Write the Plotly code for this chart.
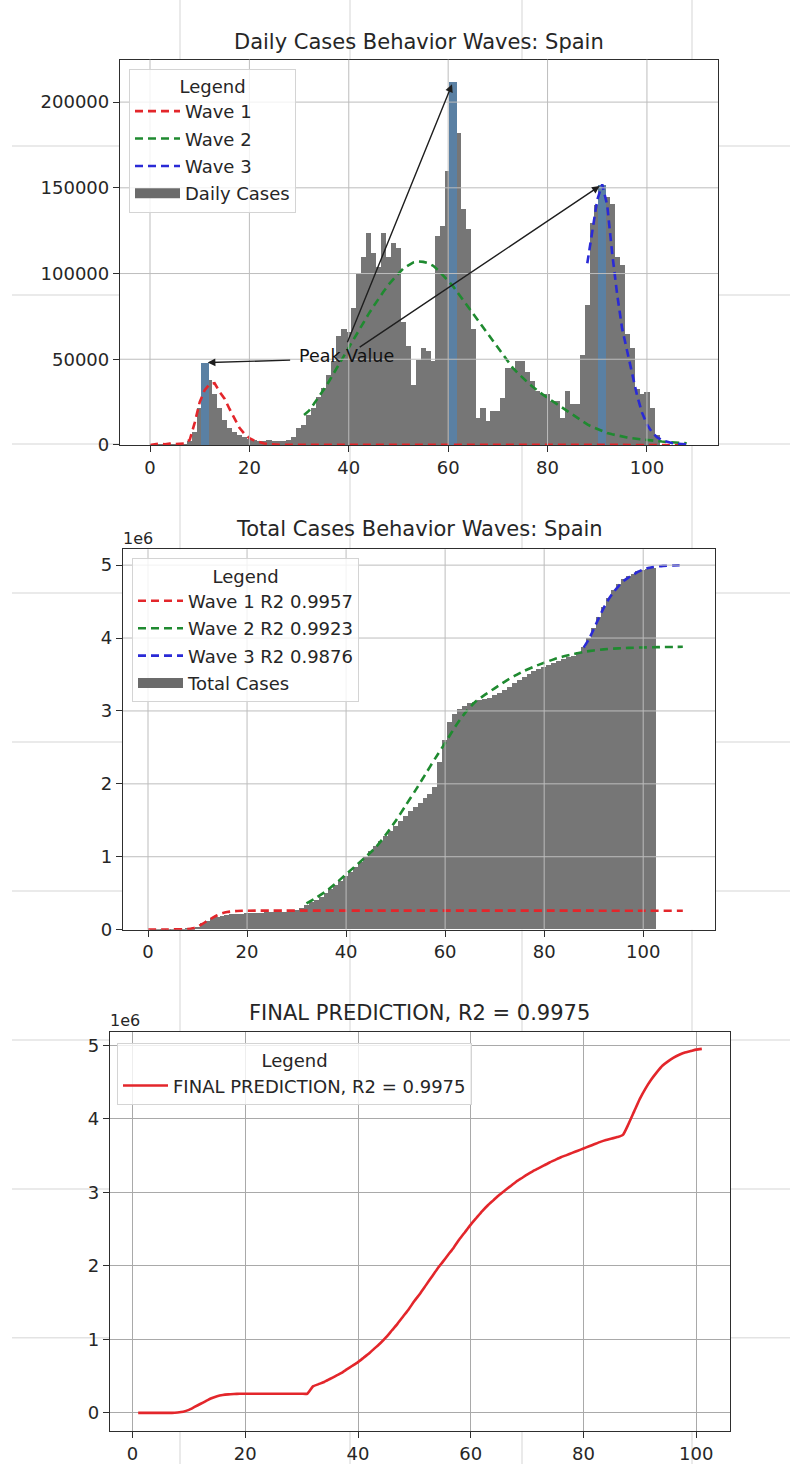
import plotly.graph_objects as go

# ---------------------------------------------------------------- data
days = list(range(0, 103))
daily_cases = [
    0, 100, 300, 200, 500, 400, 600, 1000, 2500, 8000,
    22000, 48000, 38000, 30000, 22000, 15000, 10000, 8000, 6000, 5000,
    3500, 3000, 2500, 2500, 3000, 2800, 2600, 2800, 3000, 4600,
    10400, 12000, 18000, 22000, 28000, 33600, 41000, 49000, 64000, 68000,
    66000, 80000, 100000, 110000, 124000, 112000, 104000, 124000, 110000, 118000,
    115000, 72000, 58000, 35000, 50000, 57000, 55000, 49000, 122000, 128000,
    160000, 212000, 182000, 138000, 126000, 68000, 16000, 22000, 14500, 20000,
    20000, 27800, 45000, 45000, 49000, 49000, 43000, 37600, 32000, 30000,
    30000, 26000, 26000, 16000, 32000, 24000, 24000, 53000, 82000, 130000,
    140000, 152000, 145000, 141000, 110000, 105000, 65000, 57000, 33000, 30000,
    31000, 22000, 6000,
]
total_cases = [
    0, 100, 400, 600, 1100, 1500, 2100, 3100, 5600, 14000,
    36000, 84000, 122000, 152000, 174000, 189000, 199000, 207000, 213000, 218000,
    222000, 225000, 227000, 230000, 233000, 235000, 238000, 241000, 244000, 249000,
    270000, 300000, 330000, 370000, 410000, 450000, 500000, 550000, 610000, 670000,
    730000, 790000, 860000, 930000, 1000000, 1070000, 1140000, 1210000, 1280000, 1350000,
    1420000, 1490000, 1560000, 1620000, 1680000, 1740000, 1800000, 1860000, 1950000, 2300000,
    2600000, 2850000, 2950000, 3020000, 3070000, 3100000, 3120000, 3140000, 3160000, 3180000,
    3210000, 3240000, 3280000, 3330000, 3380000, 3420000, 3460000, 3500000, 3540000, 3570000,
    3600000, 3630000, 3660000, 3680000, 3710000, 3730000, 3750000, 3800000, 3880000, 4000000,
    4130000, 4280000, 4420000, 4550000, 4660000, 4740000, 4800000, 4850000, 4880000, 4910000,
    4930000, 4950000, 4960000,
]

# fitted daily curves of the three waves
wave1_daily_days = list(range(0, 27)) + [108]
wave1_daily = [
    0, 500, 800, 400, 800, 500, 600, 900, 3000, 13000,
    25000, 32000, 35500, 36000, 31000, 27000, 21000, 15000, 10000, 6500,
    4000, 2500, 1500, 900, 500, 300, 150, 0,
]
wave2_daily_days = list(range(31, 109))
wave2_daily = [
    17500, 20000, 24000, 28000, 32500, 37000, 42000, 47000, 52000, 57000,
    61500, 66500, 71500, 76500, 81000, 85500, 89500, 93500, 97000, 100000,
    103000, 105000, 106500, 107000, 106800, 106000, 104500, 102000, 99000, 96000,
    92500, 88500, 84500, 80500, 76500, 72500, 68500, 64500, 60500, 57000,
    52500, 48500, 45000, 42000, 39000, 36500, 34000, 31500, 29500, 27500,
    25500, 23500, 21500, 19500, 17500, 15500, 14000, 12000, 10500, 9200,
    8000, 7000, 6200, 5500, 4900, 4400, 3900, 3500, 3200, 2900,
    2600, 2300, 2000, 1800, 1600, 1400, 1200, 1000,
]
wave3_daily_days = list(range(88, 109))
wave3_daily = [
    106000, 125000, 143000, 152000, 140000, 112000, 88000, 68000, 55000, 42000,
    29000, 19000, 12000, 7500, 4500, 2800, 1800, 1100, 700, 400, 300,
]

peak_days = [11, 61, 91]
peak_values = [48000, 212000, 152000]

# fitted cumulative curves of the three waves
wave1_total_days = list(range(0, 21)) + [108]
wave1_total = [
    3000, 3000, 3000, 3000, 3000, 3500, 4000, 5000, 8000, 18000,
    42000, 80000, 122000, 162000, 198000, 225000, 242000, 251000, 256000, 259000,
    260000, 260000,
]
wave2_total_days = list(range(32, 109, 2))
wave2_total = [
    360000, 440000, 530000, 640000, 760000, 880000, 1000000, 1130000, 1300000, 1490000,
    1700000, 1910000, 2130000, 2350000, 2560000, 2780000, 2970000, 3120000, 3220000, 3310000,
    3400000, 3480000, 3550000, 3610000, 3660000, 3710000, 3750000, 3780000, 3810000, 3830000,
    3845000, 3855000, 3862000, 3867000, 3871000, 3874000, 3876000, 3878000, 3880000,
]
wave3_total_days = list(range(88, 103)) + [104, 106, 108]
wave3_total = [
    3870000, 3980000, 4120000, 4270000, 4410000, 4530000, 4630000, 4710000, 4780000, 4830000,
    4870000, 4910000, 4940000, 4960000, 4975000, 4990000, 4995000, 5000000,
]
wave_r2 = ["0.9957", "0.9923", "0.9876"]

pred_days = list(range(1, 102))
final_prediction = [
    0, 0, 0, 0, 0, 0, 0, 5000, 15000, 40000,
    80000, 120000, 160000, 198000, 225000, 242000, 251000, 256000, 259000, 260000,
    260000, 260000, 260000, 260000, 260000, 260000, 260000, 260000, 260000, 260000, 260000,
    360000, 390000, 420000, 460000, 500000, 540000, 590000, 640000, 690000,
    750000, 810000, 880000, 950000, 1030000, 1120000, 1210000, 1310000, 1410000, 1520000,
    1620000, 1730000, 1840000, 1950000, 2050000, 2150000, 2250000, 2360000, 2460000, 2560000,
    2650000, 2740000, 2820000, 2890000, 2960000, 3020000, 3080000, 3140000, 3190000, 3240000,
    3285000, 3325000, 3365000, 3405000, 3440000, 3475000, 3505000, 3535000, 3565000, 3595000,
    3625000, 3655000, 3685000, 3710000, 3730000, 3750000, 3780000, 3930000, 4100000, 4270000,
    4410000, 4530000, 4630000, 4720000, 4780000, 4830000, 4870000, 4900000, 4920000, 4940000,
    4950000,
]
final_r2 = "0.9975"

day_ticks = [0, 20, 40, 60, 80, 100]
daily_ticks = [0, 50000, 100000, 150000, 200000]
daily_tick_labels = ["0", "50000", "100000", "150000", "200000"]
million_ticks = [0, 1e6, 2e6, 3e6, 4e6, 5e6]
million_tick_labels = ["0", "1", "2", "3", "4", "5"]

# ---------------------------------------------------------------- styling
W, H = 790, 1474
FONT = "DejaVu Sans"
INK = "#262626"
FRAME = "#2e2e2e"
GRID = "#bdbdbd"
GRID3 = "#a9a9a9"
BAR = "#767676"
PEAK = "#5a80a3"
RED, GREEN, BLUE = "#e3262b", "#1f8a30", "#2a2ad6"
DASH = "8px,5px"
TICK_SIZE = 18
LEGEND_SIZE = 18
BAR_WIDTH = 1.12  # slight overlap so neighbouring bars join without seams


def fx(p):
    return p / W


def fy(p):
    return 1 - p / H


# panel boxes in pixels: (left, top, right, bottom)
panels = {
    1: (120, 60, 718, 448),
    2: (123, 553, 715, 936),
    3: (110, 1039, 730, 1441),
}

fig = go.Figure()

# ---- panel 1: daily cases
for name, xs, ys, col in [
    ("Wave 1", wave1_daily_days, wave1_daily, RED),
    ("Wave 2", wave2_daily_days, wave2_daily, GREEN),
    ("Wave 3", wave3_daily_days, wave3_daily, BLUE),
]:
    fig.add_trace(go.Scatter(
        x=xs, y=ys, mode="lines", name=name, legend="legend", legendgroup=name,
        line=dict(color=col, width=2.6, dash=DASH),
        xaxis="x", yaxis="y",
    ))
fig.add_trace(go.Scatter(
    x=[None], y=[None], mode="lines", name="Daily Cases", legend="legend",
    legendgroup="Daily Cases",
    line=dict(color="#6b6b6b", width=12), xaxis="x", yaxis="y",
))
fig.add_trace(go.Bar(
    x=days, y=daily_cases, width=BAR_WIDTH, showlegend=False,
    marker=dict(color=BAR, line=dict(width=0)),
    xaxis="x", yaxis="y",
))
fig.add_trace(go.Bar(
    x=peak_days, y=peak_values, width=1.6, showlegend=False,
    marker=dict(color=PEAK, line=dict(width=0)),
    xaxis="x", yaxis="y",
))

# ---- panel 2: total cases
for i, (xs, ys, col) in enumerate([
    (wave1_total_days, wave1_total, RED),
    (wave2_total_days, wave2_total, GREEN),
    (wave3_total_days, wave3_total, BLUE),
]):
    nm = f"Wave {i + 1} R2 {wave_r2[i]}"
    fig.add_trace(go.Scatter(
        x=xs, y=ys, mode="lines", name=nm, legendgroup=nm,
        legend="legend2", line=dict(color=col, width=2.6, dash=DASH,
                                    shape="spline", smoothing=0.6),
        xaxis="x2", yaxis="y2",
    ))
fig.add_trace(go.Scatter(
    x=[None], y=[None], mode="lines", name="Total Cases", legend="legend2",
    legendgroup="Total Cases",
    line=dict(color="#6b6b6b", width=12), xaxis="x2", yaxis="y2",
))
fig.add_trace(go.Bar(
    x=days, y=total_cases, width=BAR_WIDTH, showlegend=False,
    marker=dict(color=BAR, line=dict(width=0)),
    xaxis="x2", yaxis="y2",
))

# ---- panel 3: final prediction
fig.add_trace(go.Scatter(
    x=pred_days, y=final_prediction, mode="lines",
    name=f"FINAL PREDICTION, R2 = {final_r2}", legend="legend3",
    line=dict(color=RED, width=2.6, shape="spline", smoothing=0.5),
    xaxis="x3", yaxis="y3",
))

axis_common = dict(
    showline=True, mirror=True, linecolor=FRAME, linewidth=1.3,
    ticks="outside", ticklen=6, tickwidth=1.2, tickcolor=FRAME,
    tickfont=dict(family=FONT, size=TICK_SIZE, color=INK),
    zeroline=False, showgrid=False, fixedrange=True,
)


def xdom(k):
    l, t, r, b = panels[k]
    return [fx(l), fx(r)]


def ydom(k):
    l, t, r, b = panels[k]
    return [fy(b), fy(t)]


fig.update_layout(
    width=W, height=H, margin=dict(l=0, r=0, t=0, b=0),
    paper_bgcolor="white", plot_bgcolor="white",
    barmode="overlay", bargap=0,
    font=dict(family=FONT, color=INK),
    xaxis=dict(axis_common, domain=xdom(1), range=[-6.04, 114.3],
               tickvals=day_ticks, anchor="y"),
    yaxis=dict(axis_common, domain=ydom(1), range=[0, 224800],
               tickvals=daily_ticks, ticktext=daily_tick_labels, anchor="x"),
    xaxis2=dict(axis_common, domain=xdom(2), range=[-5.05, 114.5],
                tickvals=day_ticks, anchor="y2"),
    yaxis2=dict(axis_common, domain=ydom(2), range=[0, 5.218e6],
                tickvals=million_ticks, ticktext=million_tick_labels, anchor="x2"),
    xaxis3=dict(axis_common, domain=xdom(3), range=[-4, 106],
                tickvals=day_ticks, anchor="y3", showgrid=True,
                gridcolor=GRID3, gridwidth=1),
    yaxis3=dict(axis_common, domain=ydom(3), range=[-0.25e6, 5.18e6],
                tickvals=million_ticks, ticktext=million_tick_labels, anchor="x3",
                showgrid=True, gridcolor=GRID3, gridwidth=1),
)

legend_common = dict(
    xanchor="left", yanchor="top",
    bgcolor="rgba(255,255,255,0.8)", bordercolor="#d4d4d4", borderwidth=1,
    font=dict(family=FONT, size=LEGEND_SIZE, color=INK),
    itemwidth=45, tracegroupgap=1, traceorder="grouped",
)
legend_title = dict(text="Legend", side="top center",
                    font=dict(family=FONT, size=LEGEND_SIZE, color=INK))
fig.update_layout(
    legend=dict(legend_common, x=fx(129), y=fy(69), title=legend_title),
    legend2=dict(legend_common, x=fx(132), y=fy(562), title=legend_title),
    legend3=dict(legend_common, x=fx(117), y=fy(1050), title=legend_title),
)

# ---- page rules, white panels and panel grids
shapes = []
for xp in [180, 350, 522, 692]:
    shapes.append(dict(type="line", xref="paper", yref="paper",
                       x0=fx(xp), x1=fx(xp), y0=0, y1=1, layer="below",
                       line=dict(color="#e3e3e3", width=1.5)))
for yp in [147, 297, 447, 597, 747, 897, 1047, 1197, 1347]:
    shapes.append(dict(type="line", xref="paper", yref="paper",
                       x0=fx(12), x1=1, y0=fy(yp), y1=fy(yp), layer="below",
                       line=dict(color="#e3e3e3", width=1.5)))
for k, (l, t, r, b) in panels.items():
    shapes.append(dict(type="rect", xref="paper", yref="paper",
                       x0=fx(l), x1=fx(r), y0=fy(b), y1=fy(t), layer="below",
                       fillcolor="white", line=dict(width=0)))
for xa, ya, yticks in [("x", "y", daily_ticks), ("x2", "y2", million_ticks)]:
    for t in day_ticks:
        shapes.append(dict(type="line", xref=xa, yref=f"{ya} domain",
                           x0=t, x1=t, y0=0, y1=1, layer="above",
                           line=dict(color=GRID, width=1)))
    for t in yticks[1:]:
        shapes.append(dict(type="line", xref=f"{xa} domain", yref=ya,
                           x0=0, x1=1, y0=t, y1=t, layer="above",
                           line=dict(color=GRID, width=1)))
fig.update_layout(shapes=shapes)

# ---- titles, offset labels, peak annotations
ann = []
titles = [
    ("Daily Cases Behavior Waves: Spain", 419, 42),
    ("Total Cases Behavior Waves: Spain", 419, 533),
    (f"FINAL PREDICTION, R2 = {final_r2}", 420, 1020),
]
for text, xp, yp in titles:
    ann.append(dict(text=text, x=fx(xp), y=fy(yp), xref="paper", yref="paper",
                    xanchor="center", yanchor="middle", showarrow=False,
                    font=dict(family=FONT, size=21, color=INK)))
for xp, yp in [(138, 542), (125, 1027)]:
    ann.append(dict(text="1e6", x=fx(xp), y=fy(yp), xref="paper", yref="paper",
                    xanchor="center", yanchor="middle", showarrow=False,
                    font=dict(family=FONT, size=16, color=INK)))
ann.append(dict(text="Peak Value", x=29.6, y=52100, xref="x", yref="y",
                xanchor="left", yanchor="middle", showarrow=False,
                font=dict(family=FONT, size=17.5, color="#111111")))
arrow_tails = [(28.5, 49500), (39.6, 59000), (41.9, 56500)]
for (tx, ty), px_, pv in zip(arrow_tails, peak_days, peak_values):
    ann.append(dict(text="", x=px_, y=pv, xref="x", yref="y",
                    ax=tx, ay=ty, axref="x", ayref="y",
                    showarrow=True, arrowhead=2, arrowsize=1.1,
                    arrowwidth=1.4, arrowcolor="#1e1e1e", standoff=3))
fig.update_layout(annotations=ann)

fig.write_html("out.html")
